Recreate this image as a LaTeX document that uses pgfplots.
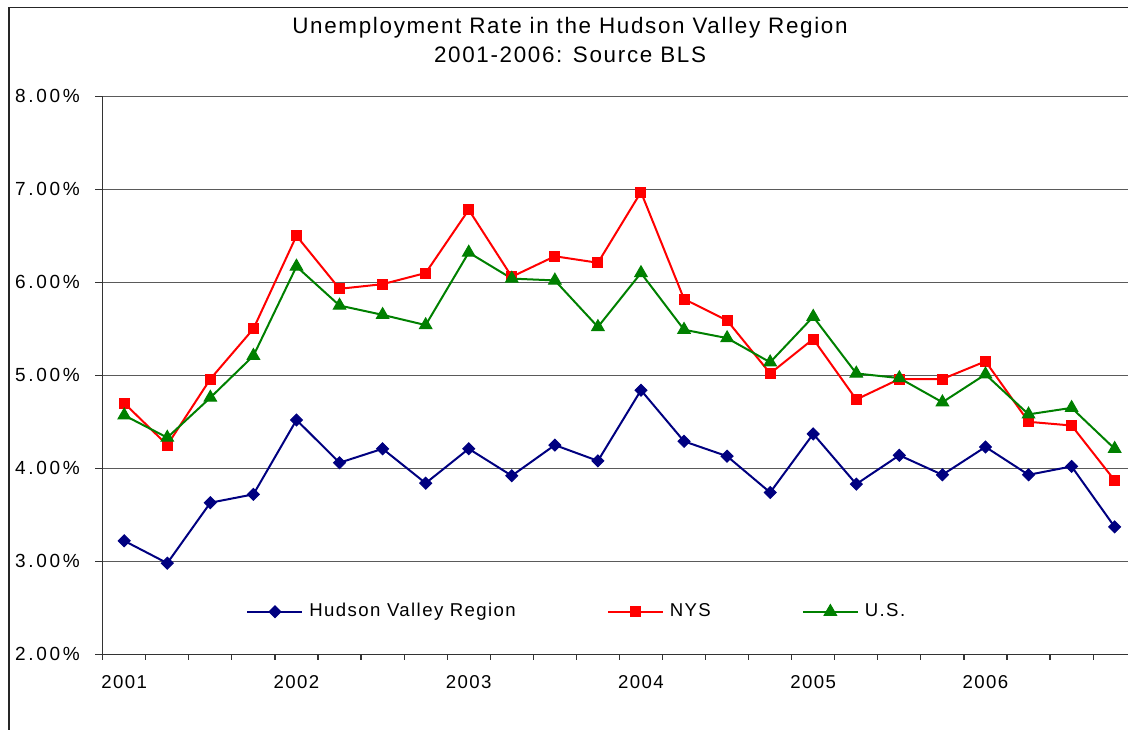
\documentclass[border=0pt]{standalone}
\usepackage{fontspec}
\setmainfont{Liberation Sans}[LetterSpace=7.5]
\usepackage{pgfplots}
\pgfplotsset{compat=1.18}

\definecolor{hvblue}{RGB}{0,0,128}
\definecolor{nysred}{RGB}{255,0,0}
\definecolor{usgreen}{RGB}{0,128,0}
\definecolor{gridgray}{RGB}{90,90,90}

\begin{document}
\begin{tikzpicture}
% page = 1128 x 729 px, 1 px = 0.5pt, plot area lower left at (0,0)
\path[use as bounding box] (-51.35pt,-37.35pt) rectangle (512.65pt,327.15pt);
\draw[black!85, line width=0.75pt] (-46.85pt,-40pt) -- (-46.85pt,323.5pt) -- (520pt,323.5pt);
\begin{axis}[
    scale only axis,
    width=512.65pt, height=279pt,
    xmin=-0.5, xmax=23.31,
    ymin=2, ymax=8,
    axis x line*=bottom, axis y line*=left,
    axis line style={black!80, line width=0.75pt},
    ytick={2,3,...,8},
    yticklabels={2.00\%,3.00\%,4.00\%,5.00\%,6.00\%,7.00\%,8.00\%},
    ymajorgrids,
    grid style={gridgray, line width=0.5pt},
    xtick={0,4,...,20},
    xticklabels={2001,2002,2003,2004,2005,2006},
    minor xtick={-0.5,0.5,...,22.5},
    tick align=outside,
    major tick length=3.8pt, minor tick length=2.8pt,
    tick style={black!80, line width=0.6pt},
    major x tick style={draw=none},
    yticklabel style={font=\fontsize{9.5}{11}\selectfont\addfontfeature{LetterSpace=14},
        anchor=east, inner sep=0pt, xshift=-7.5pt},
    xticklabel style={font=\fontsize{9.3}{11}\selectfont, anchor=north, inner sep=0pt, yshift=-6.5pt},
    legend columns=3,
    legend style={draw=none, fill=none, at={(0.1398,0.0763)}, anchor=west,
        inner sep=0pt, font=\fontsize{9.3}{11}\selectfont,
        /tikz/every even column/.append style={column sep=43.5pt},
        /tikz/every odd column/.append style={column sep=1pt}},
    legend image code/.code={
        \draw[mark repeat=2, mark phase=2, #1] plot coordinates {(0pt,0pt) (13.75pt,0pt) (27.5pt,0pt)};},
]
% Hudson Valley Region
\addplot[hvblue, line width=1pt, mark=square*, mark size=2.1pt,
    mark options={rotate=45, line width=0.5pt}] coordinates {
    (0,3.22) (1,2.98) (2,3.63) (3,3.72) (4,4.52) (5,4.06) (6,4.21) (7,3.84)
    (8,4.21) (9,3.92) (10,4.25) (11,4.08) (12,4.84) (13,4.29) (14,4.13) (15,3.74)
    (16,4.37) (17,3.83) (18,4.14) (19,3.93) (20,4.23) (21,3.93) (22,4.02) (23,3.37)
};
\addlegendentry{Hudson Valley Region}
% NYS
\addplot[nysred, line width=1pt, mark=square*, mark size=2.5pt,
    mark options={line width=0.5pt}] coordinates {
    (0,4.70) (1,4.25) (2,4.96) (3,5.50) (4,6.50) (5,5.93) (6,5.98) (7,6.10)
    (8,6.78) (9,6.06) (10,6.28) (11,6.21) (12,6.97) (13,5.82) (14,5.59) (15,5.02)
    (16,5.39) (17,4.74) (18,4.96) (19,4.96) (20,5.15) (21,4.50) (22,4.46) (23,3.87)
};
\addlegendentry{NYS}
% U.S.
\addplot[usgreen, line width=1pt, mark=triangle*, mark size=3.6pt,
    mark options={line width=0.5pt}] coordinates {
    (0,4.57) (1,4.33) (2,4.76) (3,5.21) (4,6.17) (5,5.75) (6,5.65) (7,5.54)
    (8,6.32) (9,6.04) (10,6.02) (11,5.52) (12,6.10) (13,5.49) (14,5.40) (15,5.14)
    (16,5.63) (17,5.02) (18,4.97) (19,4.71) (20,5.01) (21,4.58) (22,4.65) (23,4.21)
};
\addlegendentry{U.S.}
\end{axis}
\node[anchor=base, font=\fontsize{11.2}{13}\selectfont] at (233.65pt,310.15pt)
    {Unemployment Rate in the Hudson Valley Region};
\node[anchor=base, font=\fontsize{11.2}{13}\selectfont] at (233.65pt,295.65pt)
    {2001-2006: Source BLS};
\end{tikzpicture}
\end{document}
